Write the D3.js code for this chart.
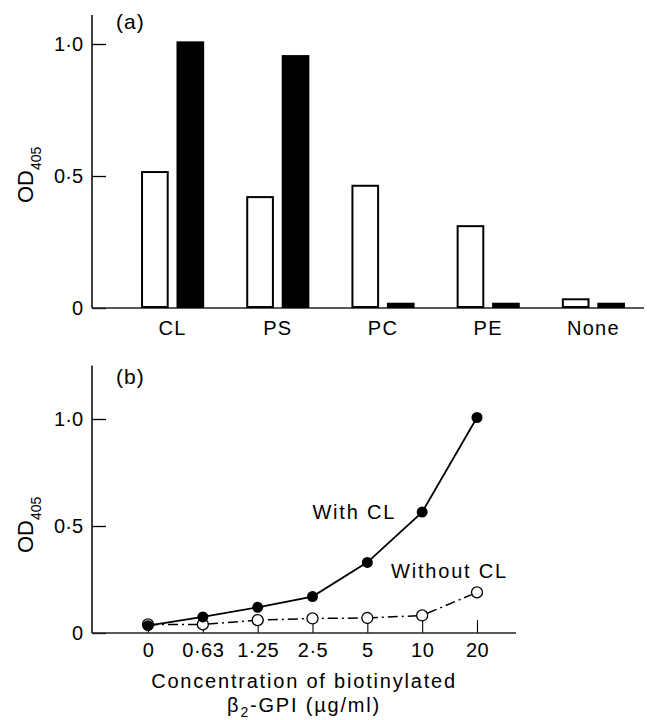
<!DOCTYPE html>
<html>
<head>
<meta charset="utf-8">
<script src="https://cdn.jsdelivr.net/npm/d3@7"></script>
<style>
  body { margin: 0; background: #fff; }
  text { font-family: "Liberation Sans", Arial, sans-serif; fill: #000; }
</style>
</head>
<body>
<div id="chart"></div>
<script>
// panel (a) data
const lipids = ['CL', 'PS', 'PC', 'PE', 'None']
const openBars = [0.515, 0.42, 0.463, 0.31, 0.033]
const solidBars = [1.01, 0.958, 0.02, 0.02, 0.02]

// panel (b) data
const concLabels = ['0', '0·63', '1·25', '2·5', '5', '10', '20']
const withCL = [0.034, 0.075, 0.12, 0.17, 0.33, 0.565, 1.007]
const withoutCL = [0.04, 0.04, 0.06, 0.068, 0.07, 0.082, 0.19]

const yTicks = [0, 0.5, 1.0]

const W = 649, H = 720
const svg = d3.select('#chart').append('svg')
    .attr('width', W)
    .attr('height', H)

const fmt = d => d === 0 ? '0' : d3.format('.1f')(d).replace('.', '·')
const axisX = 92

// ---------- panel (a) ----------
const yA = d3.scaleLinear().domain([0, 1]).range([308, 44])
const x0 = d3.scaleBand().domain(lipids).range([120, 646]).paddingInner(0.4).paddingOuter(0.2)
const x1 = d3.scaleBand().domain(['open', 'solid']).range([0, x0.bandwidth()]).paddingInner(0.22)

const gA = svg.append('g')

// y axis
gA.append('g')
    .attr('transform', `translate(${axisX},0)`)
    .call(d3.axisLeft(yA).tickValues(yTicks).tickFormat(fmt).tickSizeInner(-14).tickSizeOuter(0).tickPadding(9))
    .call(g => g.select('.domain').remove())
    .call(g => g.selectAll('line').attr('stroke', '#000').attr('stroke-width', 1.3))
    .call(g => g.selectAll('text').style('font-size', '20px').attr('fill', '#000'))

gA.append('line')
    .attr('x1', axisX).attr('x2', axisX)
    .attr('y1', yA(1.11)).attr('y2', yA(0))
    .attr('stroke', '#000').attr('stroke-width', 1.5)

// x axis
gA.append('g')
    .attr('transform', `translate(0,${yA(0)})`)
    .call(d3.axisBottom(x0).tickSize(0).tickPadding(13))
    .call(g => g.select('.domain').remove())
    .call(g => g.selectAll('text').style('font-size', '20px').attr('letter-spacing', '1.3px').attr('fill', '#000'))

gA.append('line')
    .attr('x1', axisX).attr('x2', 644)
    .attr('y1', yA(0)).attr('y2', yA(0))
    .attr('stroke', '#222').attr('stroke-width', 1.6)

// bars
const groups = gA.selectAll('.grp')
    .data(lipids.map((c, i) => ({c, open: openBars[i], solid: solidBars[i]})))
    .enter().append('g')
    .attr('transform', d => `translate(${x0(d.c)},0)`)

groups.append('rect')
    .attr('x', x1('open') + 1)
    .attr('width', x1.bandwidth() - 2)
    .attr('y', d => yA(d.open))
    .attr('height', d => yA(0) - yA(d.open) - 1)
    .attr('fill', '#fff')
    .attr('stroke', '#000')
    .attr('stroke-width', 2)

groups.append('rect')
    .attr('x', x1('solid'))
    .attr('width', x1.bandwidth())
    .attr('y', d => yA(d.solid))
    .attr('height', d => yA(0) - yA(d.solid))
    .attr('fill', '#000')

gA.append('text')
    .attr('x', 116).attr('y', 29)
    .attr('letter-spacing', '1px')
    .style('font-size', '21px')
    .text('(a)')

gA.append('text')
    .attr('transform', `translate(33,${yA(0.5) + 27}) rotate(-90)`)
    .style('font-size', '22px')
    .call(t => {
        t.append('tspan').text('OD')
        t.append('tspan').attr('dy', 8).style('font-size', '14px').text('405')
    })

// ---------- panel (b) ----------
const yB = d3.scaleLinear().domain([0, 1]).range([633, 419])
const xB = d3.scalePoint().domain(concLabels).range([148, 477])

const gB = svg.append('g')

gB.append('g')
    .attr('transform', `translate(${axisX},0)`)
    .call(d3.axisLeft(yB).tickValues(yTicks).tickFormat(fmt).tickSizeInner(-14).tickSizeOuter(0).tickPadding(9))
    .call(g => g.select('.domain').remove())
    .call(g => g.selectAll('line').attr('stroke', '#000').attr('stroke-width', 1.3))
    .call(g => g.selectAll('text').style('font-size', '20px').attr('fill', '#000'))

gB.append('line')
    .attr('x1', axisX).attr('x2', axisX)
    .attr('y1', yB(1.25)).attr('y2', yB(0))
    .attr('stroke', '#000').attr('stroke-width', 1.5)

gB.append('g')
    .attr('transform', `translate(0,${yB(0)})`)
    .call(d3.axisBottom(xB).tickSizeInner(-13).tickSizeOuter(0).tickPadding(10))
    .call(g => g.select('.domain').remove())
    .call(g => g.selectAll('line').attr('stroke', '#000').attr('stroke-width', 1.1))
    .call(g => g.selectAll('text').style('font-size', '20px').attr('letter-spacing', '0.5px').attr('fill', '#000'))

gB.append('line')
    .attr('x1', axisX).attr('x2', 516)
    .attr('y1', yB(0)).attr('y2', yB(0))
    .attr('stroke', '#222').attr('stroke-width', 1.6)

const line = d3.line()
    .x((d, i) => xB(concLabels[i]))
    .y(d => yB(d))

gB.append('path')
    .datum(withoutCL)
    .attr('d', line)
    .attr('fill', 'none')
    .attr('stroke', '#000')
    .attr('stroke-width', 1.5)
    .attr('stroke-dasharray', '10,4,2,4')

gB.append('path')
    .datum(withCL)
    .attr('d', line)
    .attr('fill', 'none')
    .attr('stroke', '#000')
    .attr('stroke-width', 1.8)

gB.selectAll('.open')
    .data(withoutCL)
    .enter().append('circle')
    .attr('cx', (d, i) => xB(concLabels[i]))
    .attr('cy', d => yB(d))
    .attr('r', 5.5)
    .attr('fill', '#fff')
    .attr('stroke', '#000')
    .attr('stroke-width', 1.3)

gB.selectAll('.solid')
    .data(withCL)
    .enter().append('circle')
    .attr('cx', (d, i) => xB(concLabels[i]))
    .attr('cy', d => yB(d))
    .attr('r', 5.5)
    .attr('fill', '#000')

gB.append('text')
    .attr('x', xB('10') - 26)
    .attr('y', yB(withCL[5]) + 7)
    .attr('text-anchor', 'end')
    .attr('letter-spacing', '1.8px')
    .style('font-size', '20px')
    .text('With CL')

gB.append('text')
    .attr('x', xB('20') + 31)
    .attr('y', yB(withoutCL[6]) - 14)
    .attr('text-anchor', 'end')
    .attr('letter-spacing', '1.8px')
    .style('font-size', '20px')
    .text('Without CL')

gB.append('text')
    .attr('x', 116).attr('y', 384)
    .attr('letter-spacing', '1px')
    .style('font-size', '21px')
    .text('(b)')

gB.append('text')
    .attr('transform', `translate(33,${yB(0.5) + 27}) rotate(-90)`)
    .style('font-size', '22px')
    .call(t => {
        t.append('tspan').text('OD')
        t.append('tspan').attr('dy', 8).style('font-size', '14px').text('405')
    })

// x axis title
const title = gB.append('text')
    .attr('text-anchor', 'middle')
    .attr('letter-spacing', '1.8px')
    .style('font-size', '20px')
title.append('tspan').attr('x', 304).attr('y', 688).text('Concentration of biotinylated')
const l2 = title.append('tspan').attr('x', 304).attr('y', 712)
l2.append('tspan').text('β')
l2.append('tspan').attr('dy', 5).style('font-size', '14px').text('2')
l2.append('tspan').attr('dy', -5).text('-GPI (µg/ml)')
</script>
</body>
</html>
